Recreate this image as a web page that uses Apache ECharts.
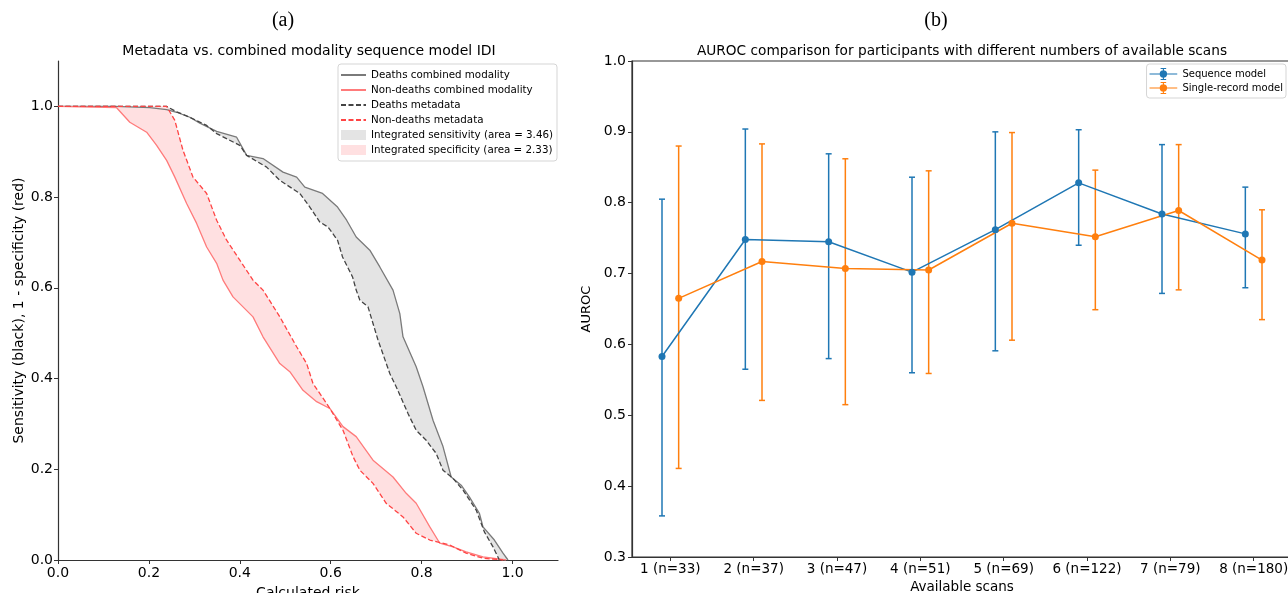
<!DOCTYPE html>
<html>
<head>
<meta charset="utf-8">
<script src="https://cdn.jsdelivr.net/npm/echarts@6/dist/echarts.min.js"></script>
<style>html,body{margin:0;padding:0;background:#fff}#c{width:1288px;height:593px}</style>
</head>
<body>
<div id="c"></div>
<script>
// ---------- Panel (a) data: [calculated risk, rate] ----------
const deathsCombined = [[0,1.0],[0.125,1.0],[0.202,0.997],[0.239,0.993],[0.261,0.987],[0.290,0.976],[0.312,0.963],[0.349,0.945],[0.393,0.932],[0.415,0.892],[0.451,0.885],[0.495,0.855],[0.525,0.844],[0.543,0.822],[0.582,0.808],[0.615,0.778],[0.635,0.749],[0.656,0.712],[0.686,0.683],[0.708,0.646],[0.737,0.595],[0.752,0.543],[0.759,0.492],[0.788,0.426],[0.803,0.382],[0.825,0.308],[0.847,0.250],[0.865,0.183],[0.887,0.165],[0.905,0.139],[0.927,0.103],[0.935,0.073],[0.960,0.044],[0.979,0.015],[0.990,0]];
const deathsMetadata = [[0,1.0],[0.239,1.0],[0.261,0.988],[0.290,0.976],[0.327,0.958],[0.349,0.940],[0.400,0.914],[0.415,0.892],[0.459,0.866],[0.488,0.837],[0.532,0.808],[0.554,0.778],[0.576,0.745],[0.594,0.734],[0.615,0.705],[0.626,0.668],[0.648,0.624],[0.656,0.595],[0.664,0.573],[0.682,0.558],[0.704,0.485],[0.730,0.411],[0.744,0.382],[0.770,0.323],[0.788,0.286],[0.810,0.264],[0.832,0.235],[0.847,0.198],[0.869,0.180],[0.891,0.154],[0.920,0.110],[0.938,0.062],[0.957,0.029],[0.971,0]];
const nonDeathsCombined = [[0,1.0],[0.048,0.999],[0.129,0.997],[0.158,0.965],[0.195,0.943],[0.217,0.914],[0.239,0.881],[0.257,0.844],[0.283,0.786],[0.305,0.742],[0.327,0.690],[0.349,0.654],[0.363,0.617],[0.385,0.580],[0.429,0.536],[0.451,0.492],[0.488,0.433],[0.510,0.415],[0.539,0.374],[0.569,0.349],[0.598,0.334],[0.627,0.294],[0.656,0.272],[0.693,0.220],[0.737,0.183],[0.766,0.147],[0.788,0.125],[0.818,0.073],[0.840,0.037],[0.869,0.029],[0.898,0.018],[0.935,0.007],[0.986,0]];
const nonDeathsMetadata = [[0,1.0],[0.239,1.0],[0.257,0.969],[0.275,0.903],[0.297,0.844],[0.327,0.808],[0.349,0.749],[0.371,0.705],[0.400,0.661],[0.429,0.617],[0.451,0.595],[0.488,0.536],[0.525,0.470],[0.547,0.433],[0.561,0.389],[0.591,0.345],[0.598,0.334],[0.627,0.286],[0.649,0.228],[0.664,0.198],[0.693,0.169],[0.722,0.125],[0.759,0.095],[0.788,0.059],[0.818,0.044],[0.862,0.033],[0.898,0.015],[0.935,0.004],[0.979,0]];
const ticksA = [0, 0.2, 0.4, 0.6, 0.8, 1.0];
const sensitivityArea = '3.46';
const specificityArea = '2.33';

// ---------- Panel (b) data ----------
const scanLabels = ['1 (n=33)','2 (n=37)','3 (n=47)','4 (n=51)','5 (n=69)','6 (n=122)','7 (n=79)','8 (n=180)'];
const scanCounts = [1,2,3,4,5,6,7,8];
const seqAuroc = [0.583,0.748,0.745,0.702,0.762,0.828,0.784,0.756];
const seqLow   = [0.358,0.565,0.580,0.560,0.591,0.740,0.672,0.680];
const seqHigh  = [0.805,0.904,0.869,0.836,0.900,0.903,0.882,0.822];
const srAuroc  = [0.665,0.717,0.707,0.705,0.771,0.752,0.789,0.719];
const srLow    = [0.425,0.521,0.515,0.559,0.606,0.649,0.677,0.635];
const srHigh   = [0.880,0.883,0.862,0.845,0.899,0.846,0.882,0.790];
const offset = 0.1;
const ticksB = [0.3,0.4,0.5,0.6,0.7,0.8,0.9,1.0];

const FONT = 'DejaVu Sans';
const AXIS_COLOR = '#333';
const BLUE = '#1f77b4', ORANGE = '#ff7f0e';
const GRAY_FILL = '#e4e4e4', PINK_FILL = '#ffe0e1';

function band(upper, lower, color, name) {
  return {
    type: 'custom', name: name, xAxisIndex: 0, yAxisIndex: 0, z: 1,
    itemStyle: {color: color},
    data: [[0, 0]],
    silent: true,
    renderItem: function (params, api) {
      const pts = upper.map(p => api.coord(p)).concat(lower.slice().reverse().map(p => api.coord(p)));
      return {type: 'polygon', shape: {points: pts}, style: {fill: color, stroke: null}};
    }
  };
}
function errBars(xs, lo, hi, color, name) {
  return {
    type: 'custom', name: name, xAxisIndex: 1, yAxisIndex: 1, z: 3,
    data: xs.map((x, i) => [x, lo[i], hi[i]]),
    encode: {x: 0, y: [1, 2]},
    renderItem: function (params, api) {
      const x = api.value(0);
      const a = api.coord([x, api.value(2)]);
      const b = api.coord([x, api.value(1)]);
      const st = {stroke: color, lineWidth: 1.5};
      return {type: 'group', children: [
        {type: 'line', shape: {x1: a[0], y1: a[1], x2: b[0], y2: b[1]}, style: st},
        {type: 'line', shape: {x1: a[0]-3, y1: a[1], x2: a[0]+3, y2: a[1]}, style: st},
        {type: 'line', shape: {x1: b[0]-3, y1: b[1], x2: b[0]+3, y2: b[1]}, style: st}
      ]};
    }
  };
}

const chart = echarts.init(document.getElementById('c'), null, {renderer: 'canvas'});
const errIcon = 'path://M0,6.4L30,6.4L30,7.6L0,7.6Z M14.4,0.5L15.6,0.5L15.6,13.5L14.4,13.5Z M12,0.5L18,0.5L18,1.5L12,1.5Z M12,12.5L18,12.5L18,13.5L12,13.5Z M11,7A4,4,0,1,1,19,7A4,4,0,1,1,11,7Z';

const seqX = scanCounts.map(c => c - offset);
const srX = scanCounts.map(c => c + offset);
const sensName = 'Integrated sensitivity (area = ' + sensitivityArea + ')';
const specName = 'Integrated specificity (area = ' + specificityArea + ')';

chart.setOption({
  animation: false,
  backgroundColor: '#fff',
  title: [
    {text: '(a)', left: 283, top: 11, textAlign: 'center', padding: 0, textStyle: {fontFamily: 'Liberation Serif', fontSize: 20, fontWeight: 'normal', color: '#000'}},
    {text: '(b)', left: 936, top: 11, textAlign: 'center', padding: 0, textStyle: {fontFamily: 'Liberation Serif', fontSize: 20, fontWeight: 'normal', color: '#000'}},
    {text: 'Metadata vs. combined modality sequence model IDI', left: 309, top: 44, textAlign: 'center', padding: 0, textStyle: {fontFamily: FONT, fontSize: 14, fontWeight: 'normal', color: '#000'}},
    {text: 'AUROC comparison for participants with different numbers of available scans', left: 962, top: 44, textAlign: 'center', padding: 0, textStyle: {fontFamily: FONT, fontSize: 13.7, fontWeight: 'normal', color: '#000'}}
  ],
  legend: [
    {
      data: [
        {name: 'Deaths combined modality'},
        {name: 'Non-deaths combined modality'},
        {name: 'Deaths metadata'},
        {name: 'Non-deaths metadata'},
        {name: sensName, icon: 'rect', itemStyle: {opacity: 1, color: GRAY_FILL}},
        {name: specName, icon: 'rect', itemStyle: {opacity: 1, color: PINK_FILL}}
      ],
      itemStyle: {opacity: 0},
      orient: 'vertical', left: 338, top: 64, itemWidth: 25, itemHeight: 10, itemGap: 3,
      padding: [5, 4, 5, 2], borderColor: '#d5d5d5', borderWidth: 1, borderRadius: 3, backgroundColor: '#fff',
      textStyle: {fontFamily: FONT, fontSize: 10.3, color: '#000', lineHeight: 12}, selectedMode: false
    },
    {
      data: [{name: 'Sequence model', icon: errIcon}, {name: 'Single-record model', icon: errIcon}],
      orient: 'vertical', right: 2, top: 64, itemWidth: 28, itemHeight: 12, itemGap: 2,
      padding: [4, 3, 4, 3], borderColor: '#d5d5d5', borderWidth: 1, borderRadius: 3, backgroundColor: '#fff',
      textStyle: {fontFamily: FONT, fontSize: 10, color: '#000'}, selectedMode: false
    }
  ],
  grid: [
    {left: 58, top: 61, width: 500, height: 499, outerBoundsMode: 'none', containLabel: false},
    {left: 632, top: 61, right: -4, height: 496, outerBoundsMode: 'none', containLabel: false, show: true, borderColor: AXIS_COLOR, borderWidth: 1.2, backgroundColor: 'transparent'}
  ],
  xAxis: [
    {
      type: 'value', gridIndex: 0, min: 0, max: 1.1,
      name: 'Calculated risk', nameLocation: 'middle', nameGap: 26,
      nameTextStyle: {fontFamily: FONT, fontSize: 14, color: '#000'},
      axisLine: {lineStyle: {color: AXIS_COLOR, width: 1.2}},
      axisTick: {customValues: ticksA, length: 4, lineStyle: {color: AXIS_COLOR}},
      axisLabel: {customValues: ticksA, formatter: v => v.toFixed(1), fontFamily: FONT, fontSize: 14, color: '#000', margin: 6},
      splitLine: {show: false}
    },
    {
      type: 'value', gridIndex: 1, min: 0.54, max: 8.46,
      name: 'Available scans', nameLocation: 'middle', nameGap: 17,
      nameTextStyle: {fontFamily: FONT, fontSize: 13.5, color: '#000'},
      axisLine: {lineStyle: {color: AXIS_COLOR, width: 1.2}},
      axisTick: {customValues: scanCounts, length: 4, lineStyle: {color: AXIS_COLOR}},
      axisLabel: {customValues: scanCounts, formatter: v => scanLabels[Math.round(v) - 1], fontFamily: FONT, fontSize: 13.5, color: '#000', margin: 5},
      splitLine: {show: false}
    }
  ],
  yAxis: [
    {
      type: 'value', gridIndex: 0, min: 0, max: 1.1,
      name: 'Sensitivity (black), 1 - specificity (red)', nameLocation: 'middle', nameGap: 32,
      nameTextStyle: {fontFamily: FONT, fontSize: 14, color: '#000'},
      axisLine: {show: true, lineStyle: {color: AXIS_COLOR, width: 1.2}},
      axisTick: {show: true, customValues: ticksA, length: 4, lineStyle: {color: AXIS_COLOR}},
      axisLabel: {customValues: ticksA, formatter: v => v.toFixed(1), fontFamily: FONT, fontSize: 14, color: '#000', margin: 5},
      splitLine: {show: false}
    },
    {
      type: 'value', gridIndex: 1, min: 0.3, max: 1.0,
      name: 'AUROC', nameLocation: 'middle', nameGap: 30,
      nameTextStyle: {fontFamily: FONT, fontSize: 13, color: '#000'},
      axisLine: {show: true, lineStyle: {color: AXIS_COLOR, width: 1.2}},
      axisTick: {show: true, customValues: ticksB, length: 4, lineStyle: {color: AXIS_COLOR}},
      axisLabel: {customValues: ticksB, formatter: v => v.toFixed(1), fontFamily: FONT, fontSize: 14, color: '#000', margin: 6},
      splitLine: {show: false}
    }
  ],
  series: [
    band(deathsCombined, deathsMetadata, GRAY_FILL, sensName),
    band(nonDeathsCombined, nonDeathsMetadata, PINK_FILL, specName),
    {type: 'line', name: 'Deaths combined modality', xAxisIndex: 0, yAxisIndex: 0, data: deathsCombined, symbol: 'none', z: 2,
      itemStyle: {color: '#7a7a7a'}, lineStyle: {color: '#7a7a7a', width: 1.3}},
    {type: 'line', name: 'Non-deaths combined modality', xAxisIndex: 0, yAxisIndex: 0, data: nonDeathsCombined, symbol: 'none', z: 2,
      itemStyle: {color: '#ff7b7b'}, lineStyle: {color: '#ff7b7b', width: 1.3}},
    {type: 'line', name: 'Deaths metadata', xAxisIndex: 0, yAxisIndex: 0, data: deathsMetadata, symbol: 'none', z: 2,
      itemStyle: {color: '#444'}, lineStyle: {color: '#444', width: 1.3, type: [5, 2.5]}},
    {type: 'line', name: 'Non-deaths metadata', xAxisIndex: 0, yAxisIndex: 0, data: nonDeathsMetadata, symbol: 'none', z: 2,
      itemStyle: {color: '#ff4444'}, lineStyle: {color: '#ff4444', width: 1.3, type: [5, 2.5]}},

    errBars(seqX, seqLow, seqHigh, BLUE, 'seqErr'),
    errBars(srX, srLow, srHigh, ORANGE, 'srErr'),
    {type: 'line', name: 'Sequence model', xAxisIndex: 1, yAxisIndex: 1, z: 4,
      data: seqX.map((x, i) => [x, seqAuroc[i]]), symbol: 'circle', symbolSize: 7,
      itemStyle: {color: BLUE}, lineStyle: {color: BLUE, width: 1.5}},
    {type: 'line', name: 'Single-record model', xAxisIndex: 1, yAxisIndex: 1, z: 4,
      data: srX.map((x, i) => [x, srAuroc[i]]), symbol: 'circle', symbolSize: 7,
      itemStyle: {color: ORANGE}, lineStyle: {color: ORANGE, width: 1.5}}
  ]
});
</script>
</body>
</html>
